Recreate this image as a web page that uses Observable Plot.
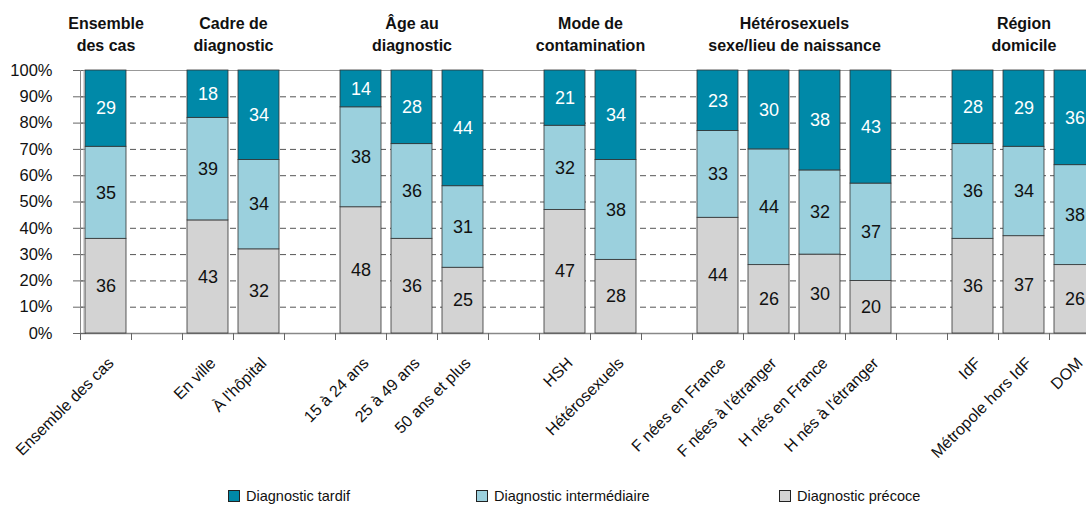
<!DOCTYPE html>
<html>
<head>
<meta charset="utf-8">
<script src="https://cdn.jsdelivr.net/npm/d3@7"></script>
<script src="https://cdn.jsdelivr.net/npm/@observablehq/plot@0.6"></script>
<style>
  html, body { margin: 0; padding: 0; background: #fff; overflow: hidden; width: 1086px; height: 510px; }
  body { font-family: "Liberation Sans", Arial, sans-serif; }
  #chart svg { overflow: hidden; }
  #legend { position: relative; height: 30px; font-size: 14.5px; color: #111; }
  #legend .item { position: absolute; top: 0; display: flex; align-items: center; white-space: nowrap; }
  #legend .sw { width: 12px; height: 12px; border: 1px solid #222; margin-right: 6px; box-sizing: border-box; }
</style>
</head>
<body>
<div id="chart"></div>
<div id="legend"></div>
<script>
const groupNames = ["Ensemble\ndes cas", "Cadre de\ndiagnostic", "Âge au\ndiagnostic", "Mode de\ncontamination", "Hétérosexuels\nsexe/lieu de naissance", "Région\ndomicile"];
const categories = ["Ensemble des cas", "En ville", "À l'hôpital", "15 à 24 ans", "25 à 49 ans", "50 ans et plus", "HSH", "Hétérosexuels", "F nées en France", "F nées à l'étranger", "H nés en France", "H nés à l'étranger", "IdF", "Métropole hors IdF", "DOM"];
const categoryGroup = [0, 1, 1, 2, 2, 2, 3, 3, 4, 4, 4, 4, 5, 5, 5];
const precoce =       [36, 43, 32, 48, 36, 25, 47, 28, 44, 26, 30, 20, 36, 37, 26];
const intermediaire = [35, 39, 34, 38, 36, 31, 32, 38, 33, 44, 32, 37, 36, 34, 38];
const tardif =        [29, 18, 34, 14, 28, 44, 21, 34, 23, 30, 38, 43, 28, 29, 36];
const seriesNames = ["Diagnostic tardif", "Diagnostic intermédiaire", "Diagnostic précoce"];
const seriesColors = ["#0089a8", "#9bd0dd", "#d3d3d3"];
const yTicks = [0, 10, 20, 30, 40, 50, 60, 70, 80, 90, 100];

// slot position: category order plus one empty slot between groups
const slots = categories.map((c, i) => i + categoryGroup[i]);
const nSlots = slots[slots.length - 1] + 1;

const segs = [];
categories.forEach((c, i) => {
  const vals = [["Diagnostic précoce", precoce[i]], ["Diagnostic intermédiaire", intermediaire[i]], ["Diagnostic tardif", tardif[i]]];
  let acc = 0;
  for (const [s, v] of vals) {
    segs.push({cat: c, slot: slots[i], series: s, value: v, y1: acc, y2: acc + v});
    acc += v;
  }
});

const labels = categories.map((c, i) => ({cat: c, slot: slots[i]}));
const headers = groupNames.map((g, gi) => {
  const s = slots.filter((_, i) => categoryGroup[i] === gi);
  return {name: g, center: (d3.min(s) + d3.max(s) + 1) / 2};
});

const font = "'Liberation Sans', Arial, sans-serif";

const chart = Plot.plot({
  width: 1086,
  height: 480,
  marginTop: 70,
  marginBottom: 147,
  marginLeft: 80,
  marginRight: 0,
  style: {fontFamily: font, fontSize: "16px", color: "#111", background: "#fff", overflow: "hidden"},
  x: {type: "linear", domain: [0, nSlots], range: [80, 1100]},
  y: {domain: [0, 100], range: [333, 70]},
  color: {domain: seriesNames, range: seriesColors},
  marks: [
    Plot.ruleY(yTicks.filter(d => d > 0 && d < 100), {x1: 0, x2: nSlots, stroke: "#555", strokeWidth: 1, strokeDasharray: "6,4"}),
    Plot.ruleY([100], {x1: 0, x2: nSlots, stroke: "#999", strokeWidth: 1.2}),
    Plot.ruleY([0], {x1: 0, x2: nSlots, stroke: "#888", strokeWidth: 1.5}),
    Plot.ruleY(yTicks, {x1: 0, x2: 0.12, stroke: "#666"}),
    Plot.rect(segs, {x1: "slot", x2: d => d.slot + 1, y1: "y1", y2: "y2", fill: "series", stroke: "#333", strokeWidth: 0.8, insetLeft: 5, insetRight: 5}),
    Plot.text(segs, {x: d => d.slot + 0.5, y: d => (d.y1 + d.y2) / 2, text: d => String(d.value), fill: d => d.series === "Diagnostic tardif" ? "#fff" : "#111", fontSize: 18}),
    Plot.ruleX([0], {y1: 0, y2: 100, stroke: "#888", strokeWidth: 1}),
    Plot.ruleX([0], {y1: 0, y2: 100, stroke: "#aaa", strokeWidth: 1, dx: 3.5}),
    Plot.axisY({ticks: yTicks, tickFormat: d => d + "%", tickSize: 7, tickPadding: 21, stroke: "#666", fontSize: 16.5, fill: "#111"}),
    Plot.axisX({ticks: d3.range(0, nSlots + 1), tickFormat: () => "", tickSize: 7, stroke: "#666"}),
    Plot.text(labels, {x: d => d.slot + 0.5, y: 0, text: "cat", rotate: -45, textAnchor: "end", lineAnchor: "middle", dx: 5, dy: 27, fontSize: 16, fill: "#111"}),
    Plot.text(headers, {x: "center", text: "name", frameAnchor: "top", lineAnchor: "top", dy: -57, fontSize: 16, fontWeight: "bold", lineHeight: 1.375, fill: "#111"})
  ]
});
document.getElementById("chart").appendChild(chart);

const legendLeft = [228, 476, 779];
const legend = document.getElementById("legend");
seriesNames.forEach((s, i) => {
  const it = document.createElement("div");
  it.className = "item";
  it.style.left = legendLeft[i] + "px";
  it.style.top = "8px";
  const sw = document.createElement("span");
  sw.className = "sw";
  sw.style.background = seriesColors[i];
  const tx = document.createElement("span");
  tx.textContent = s;
  it.appendChild(sw); it.appendChild(tx);
  legend.appendChild(it);
});
</script>
</body>
</html>
